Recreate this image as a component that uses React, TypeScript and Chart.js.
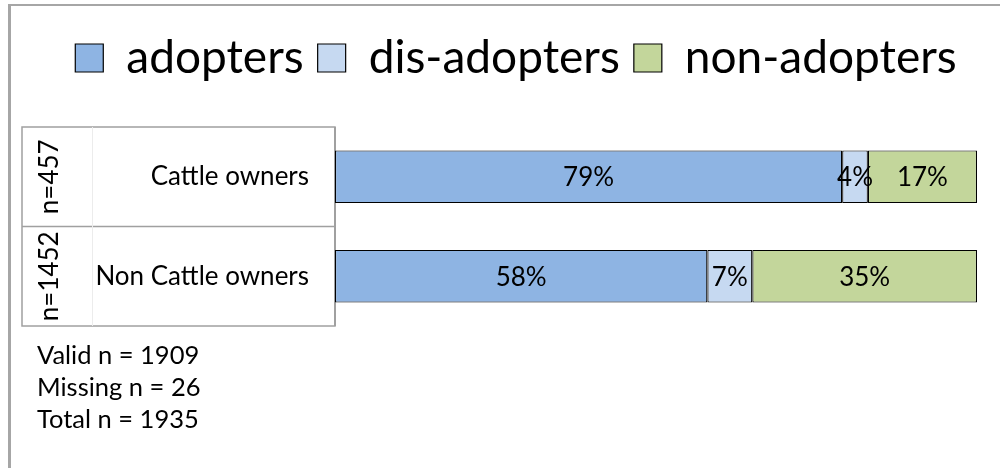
import React, { useEffect, useRef } from "react";
import { Chart, registerables } from "chart.js";

Chart.register(...registerables);

const categories = ["Cattle owners", "Non Cattle owners"];
const sampleSizes = ["n=457", "n=1452"];
const adopters = [79, 58];
const disAdopters = [4, 7];
const nonAdopters = [17, 35];
const seriesNames = ["adopters", "dis-adopters", "non-adopters"];
const footnotes = ["Valid n = 1909", "Missing n = 26", "Total n = 1935"];

const FONT = 'Lato, "Liberation Sans", sans-serif';

const decorPlugin = {
  id: "decor",
  beforeDraw(chart: any) {
    const ctx = chart.ctx;
    const area = chart.chartArea;
    const yScale = chart.scales.y;
    ctx.save();
    // outer frame
    ctx.strokeStyle = "#a6a6a6";
    ctx.lineWidth = 3;
    ctx.beginPath();
    ctx.moveTo(9.5, 468);
    ctx.lineTo(9.5, 5);
    ctx.stroke();
    ctx.lineWidth = 2;
    ctx.beginPath();
    ctx.moveTo(8, 5);
    ctx.lineTo(1000, 5);
    ctx.stroke();

    // table around categories
    const left = 22;
    const right = area.left;
    const top = area.top;
    const bottom = area.bottom;
    ctx.strokeStyle = "#a0a0a0";
    ctx.lineWidth = 1.5;
    ctx.strokeRect(left, top, right - left, bottom - top);
    const mid = (yScale.getPixelForValue(0) + yScale.getPixelForValue(1)) / 2;
    ctx.beginPath();
    ctx.moveTo(left, mid);
    ctx.lineTo(right, mid);
    ctx.stroke();
    ctx.strokeStyle = "#ececec";
    ctx.lineWidth = 1;
    ctx.beginPath();
    ctx.moveTo(92.5, top);
    ctx.lineTo(92.5, bottom);
    ctx.stroke();
    // axis line
    ctx.strokeStyle = "#a0a0a0";
    ctx.lineWidth = 2;
    ctx.beginPath();
    ctx.moveTo(area.left, top);
    ctx.lineTo(area.left, bottom);
    ctx.stroke();

    // rotated sample sizes
    ctx.fillStyle = "#000";
    ctx.font = `26px ${FONT}`;
    ctx.textAlign = "center";
    ctx.textBaseline = "middle";
    sampleSizes.forEach((s, i) => {
      const y = yScale.getPixelForValue(i);
      ctx.save();
      ctx.translate(50, y);
      ctx.rotate(-Math.PI / 2);
      ctx.fillText(s, 0, 0);
      ctx.restore();
    });

    // footnotes
    ctx.textAlign = "left";
    ctx.font = `25.5px ${FONT}`;
    footnotes.forEach((t, i) => {
      ctx.fillText(t, 37, 356 + i * 32);
    });
    ctx.restore();
  },
  afterDatasetsDraw(chart: any) {
    const ctx = chart.ctx;
    ctx.save();
    ctx.fillStyle = "#000";
    ctx.font = `26px ${FONT}`;
    ctx.textAlign = "center";
    ctx.textBaseline = "middle";
    chart.data.datasets.forEach((ds: any, di: number) => {
      const meta = chart.getDatasetMeta(di);
      meta.data.forEach((el: any, i: number) => {
        const v = ds.data[i];
        const x = (el.x + el.base) / 2;
        ctx.fillText(`${v}%`, x, el.y + 1);
      });
    });
    ctx.restore();
  },
};

export default function App() {
  const canvasRef = useRef<HTMLCanvasElement | null>(null);

  useEffect(() => {
    document.body.style.margin = "0";
    const canvas = canvasRef.current;
    if (!canvas) return;
    const chart = new Chart(canvas, {
      type: "bar",
      data: {
        labels: categories,
        datasets: [
          { label: seriesNames[0], data: adopters, backgroundColor: "#8EB4E3", borderColor: "#000", borderWidth: 1.2, borderSkipped: false },
          { label: seriesNames[1], data: disAdopters, backgroundColor: "#C6D9F1", borderColor: "#000", borderWidth: 1.2, borderSkipped: false },
          { label: seriesNames[2], data: nonAdopters, backgroundColor: "#C3D69B", borderColor: "#000", borderWidth: 1.2, borderSkipped: false },
        ],
      },
      options: {
        indexAxis: "y",
        animation: false,
        responsive: true,
        maintainAspectRatio: false,
        layout: { padding: { top: 21, left: 55, right: 23, bottom: 142 } },
        datasets: { bar: { barPercentage: 0.53, categoryPercentage: 1 } },
        scales: {
          x: {
            stacked: true,
            min: 0,
            max: 100,
            position: "top",
            display: true,
            grid: { display: false, drawTicks: false },
            border: { display: false },
            ticks: { display: false },
            afterFit: (s: any) => {
              s.height = 36;
            },
          },
          y: {
            stacked: true,
            grid: { display: false, drawTicks: false },
            border: { display: false },
            ticks: { color: "#000", padding: 26, font: { family: FONT, size: 26 } },
            afterFit: (s: any) => {
              s.width = 280;
            },
          },
        },
        plugins: {
          legend: {
            position: "top",
            labels: {
              color: "#000",
              boxWidth: 28,
              boxHeight: 28,
              padding: 14,
              font: { family: FONT, size: 46 },
            },
          },
          tooltip: { enabled: false },
        },
      },
      plugins: [decorPlugin],
    });
    return () => chart.destroy();
  }, []);

  return (
    <div style={{ position: "relative", width: 1000, height: 468, background: "#fff" }}>
      <canvas ref={canvasRef} />
    </div>
  );
}
